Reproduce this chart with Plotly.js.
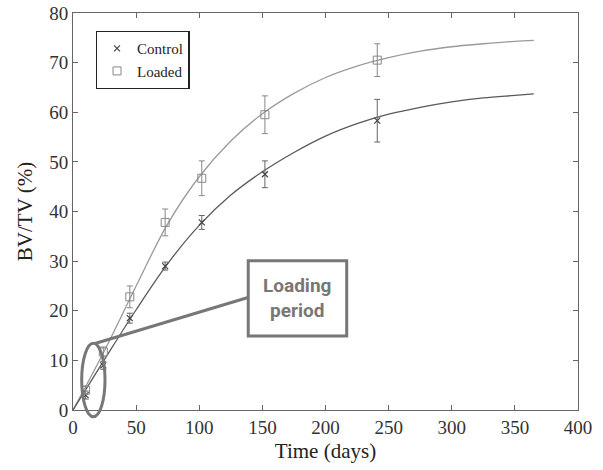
<!DOCTYPE html>
<html>
<head>
<meta charset="utf-8">
<script src="https://cdn.plot.ly/plotly-3.0.1.min.js"></script>
<style>html,body{margin:0;padding:0;background:#fff;}#chart{width:603px;height:470px;}</style>
</head>
<body>
<div id="chart"></div>
<script>
// Measured data points (days, BV/TV %)
const controlDays = [10, 24, 45, 73, 102, 152, 241];
const controlValues = [3.0, 9.0, 18.5, 29.0, 37.8, 47.5, 58.3];
const controlErr = [0.8, 0.8, 1.0, 0.8, 1.4, 2.7, 4.3];

const loadedDays = [10, 24, 45, 73, 102, 152, 241];
const loadedValues = [4.0, 11.7, 22.8, 37.8, 46.7, 59.5, 70.5];
const loadedErr = [0.8, 1.0, 2.2, 2.7, 3.5, 3.8, 3.3];

// Fitted curves
const curveDays = [0, 25, 50, 75, 100, 125, 150, 175, 200, 225, 250, 275, 300, 325, 350, 365];
const controlCurve = [0, 10.2, 20.2, 29.5, 37.2, 43.3, 48.0, 51.9, 55.2, 57.7, 59.6, 61.0, 62.1, 62.9, 63.4, 63.7];
const loadedCurve = [0, 12.0, 25.0, 37.5, 47.0, 54.2, 59.7, 63.8, 67.0, 69.3, 71.0, 72.3, 73.2, 73.8, 74.3, 74.5];

const xTicks = [0, 50, 100, 150, 200, 250, 300, 350, 400];
const yTicks = [0, 10, 20, 30, 40, 50, 60, 70, 80];

const serif = '"Liberation Serif", "Times New Roman", serif';

const traces = [
  {x: curveDays, y: loadedCurve, mode: 'lines', line: {color: '#9a9a9a', width: 1.3, shape: 'spline'}, showlegend: false, hoverinfo: 'skip'},
  {x: curveDays, y: controlCurve, mode: 'lines', line: {color: '#5a5a5a', width: 1.3, shape: 'spline'}, showlegend: false, hoverinfo: 'skip'},
  {x: controlDays, y: controlValues, name: 'Control', mode: 'markers',
   marker: {symbol: 'x-thin-open', size: 6, color: '#444', line: {color: '#444', width: 1.2}},
   error_y: {type: 'data', array: controlErr, visible: true, color: '#666', thickness: 1, width: 3}},
  {x: loadedDays, y: loadedValues, name: 'Loaded', mode: 'markers',
   marker: {symbol: 'square-open', size: 8, color: '#888', line: {color: '#888', width: 1}},
   error_y: {type: 'data', array: loadedErr, visible: true, color: '#888', thickness: 1, width: 3}}
];

const layout = {
  width: 603, height: 470,
  margin: {l: 73, r: 25, t: 13, b: 60},
  paper_bgcolor: '#fff', plot_bgcolor: '#fff',
  font: {family: serif, color: '#333', size: 19},
  showlegend: true,
  legend: {x: 0.045, y: 0.955, xanchor: 'left', yanchor: 'top',
           bgcolor: '#fff', bordercolor: '#222', borderwidth: 1.3,
           font: {family: serif, size: 15, color: '#222'}, itemwidth: 30, tracegroupgap: 0},
  xaxis: {range: [0, 400], tickvals: xTicks, ticktext: xTicks.map(String),
          ticks: 'inside', ticklen: 5, tickcolor: '#666', showline: true, linecolor: '#666', linewidth: 1,
          mirror: 'ticks', showgrid: false, zeroline: false,
          tickfont: {family: serif, size: 19, color: '#333'},
          title: {text: 'Time (days)', font: {family: serif, size: 21, color: '#222'}, standoff: 6}},
  yaxis: {range: [0, 80], tickvals: yTicks, ticktext: yTicks.map(String),
          ticks: 'inside', ticklen: 5, tickcolor: '#666', showline: true, linecolor: '#666', linewidth: 1,
          mirror: 'ticks', showgrid: false, zeroline: false,
          tickfont: {family: serif, size: 19, color: '#333'},
          title: {text: 'BV/TV (%)', font: {family: serif, size: 21, color: '#222'}, standoff: 10}},
  shapes: [
    {type: 'circle', xref: 'paper', yref: 'paper', x0: 0.0172, x1: 0.0634, y0: -0.0169, y1: 0.168,
     line: {color: '#777', width: 3}},
    {type: 'line', xref: 'paper', yref: 'paper', x0: 0.0436, y0: 0.1675, x1: 0.3465, y1: 0.2834,
     line: {color: '#777', width: 3}},
    {type: 'rect', xref: 'paper', yref: 'paper', x0: 0.347, x1: 0.542, y0: 0.1864, y1: 0.376,
     line: {color: '#777', width: 3}, fillcolor: '#fff'}
  ],
  annotations: [
    {xref: 'paper', yref: 'paper', x: 0.4445, y: 0.281, xanchor: 'center', yanchor: 'middle',
     text: '<b>Loading<br>period</b>', showarrow: false, align: 'center',
     font: {family: '"Liberation Sans Narrow", Roboto, sans-serif', size: 19, color: '#777'}}
  ]
};

Plotly.newPlot('chart', traces, layout, {displayModeBar: false, staticPlot: true});
</script>
</body>
</html>
